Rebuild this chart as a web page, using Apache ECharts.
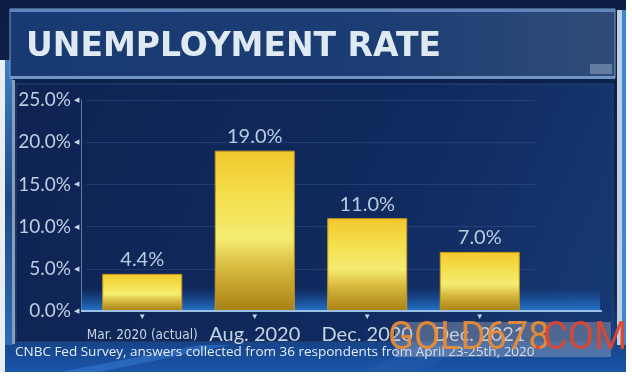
<!DOCTYPE html>
<html>
<head>
<meta charset="utf-8">
<script src="https://cdn.jsdelivr.net/npm/echarts@6/dist/echarts.min.js"></script>
<style>
  html, body { margin: 0; padding: 0; background: #fff; }
  #chart { width: 632px; height: 377px; }
</style>
</head>
<body>
<div id="chart"></div>
<script>
const categories = ["Mar. 2020 (actual)", "Aug. 2020", "Dec. 2020", "Dec. 2021"];
const rates = [4.4, 19.0, 11.0, 7.0];
const yTicks = [0, 5, 10, 15, 20, 25];
const titleText = "UNEMPLOYMENT RATE";
const sourceText = "CNBC Fed Survey, answers collected from 36 respondents from April 23-25th, 2020";

const chart = echarts.init(document.getElementById("chart"));

const goldFill = new echarts.graphic.LinearGradient(0, 0, 0, 1, [
  { offset: 0, color: "#f2c82c" },
  { offset: 0.3, color: "#f3e04e" },
  { offset: 0.55, color: "#f4ec72" },
  { offset: 0.72, color: "#d9bc40" },
  { offset: 1, color: "#a88015" }
]);

const option = {
  backgroundColor: "#ffffff",
  animation: false,
  graphic: [
    // frame background
    { type: "rect", shape: { x: 0, y: 0, width: 626, height: 372 }, z: -20,
      style: { fill: new echarts.graphic.LinearGradient(0, 0, 0, 1, [
        { offset: 0, color: "#0b1d45" }, { offset: 0.8, color: "#0f2a5e" }, { offset: 1, color: "#1b55a8" }]) } },
    { type: "rect", shape: { x: 0, y: 60, width: 5, height: 312 }, z: -19, style: { fill: "#e9eef4" } },
    { type: "rect", shape: { x: 5, y: 60, width: 8, height: 285 }, z: -19,
      style: { fill: new echarts.graphic.LinearGradient(0, 0, 0, 1, [
        { offset: 0, color: "#3c7fc8" }, { offset: 0.5, color: "#1d4a86" }, { offset: 1, color: "#2c6cb8" }]) } },
    { type: "rect", shape: { x: 12, y: 80, width: 3, height: 264 }, z: -18, style: { fill: "#8b9db3" } },
    { type: "rect", shape: { x: 617, y: 10, width: 5, height: 335 }, z: -18, style: { fill: "#c2cfdc" } },
    { type: "rect", shape: { x: 622, y: 10, width: 4, height: 335 }, z: -18, style: { fill: "#3d86d6" } },
    // title banner
    { type: "rect", shape: { x: 10, y: 9, width: 605, height: 69 }, z: -15,
      style: { fill: new echarts.graphic.LinearGradient(0, 0, 1, 0, [
        { offset: 0, color: "#183a72" }, { offset: 0.6, color: "#1c3d74" }, { offset: 1, color: "#2f4c78" }]),
        stroke: "#7d9cc4", lineWidth: 1 } },
    { type: "rect", shape: { x: 10, y: 9, width: 605, height: 3 }, z: -14, style: { fill: "#5f86bd" } },
    { type: "rect", shape: { x: 10, y: 76, width: 605, height: 3 }, z: -14, style: { fill: "#6f95c6" } },
    // chart panel
    { type: "rect", shape: { x: 16, y: 84, width: 597, height: 258 }, z: -15,
      style: { fill: new echarts.graphic.LinearGradient(0, 0, 1, 1, [
        { offset: 0, color: "#0e2352" }, { offset: 0.6, color: "#102a5f" }, { offset: 1, color: "#173a74" }]),
        stroke: "#27477c", lineWidth: 1 } },
    // blue glow above the baseline
    { type: "rect", shape: { x: 81, y: 288, width: 519, height: 23 }, z: -12,
      style: { fill: new echarts.graphic.LinearGradient(0, 0, 0, 1, [
        { offset: 0, color: "rgba(30,100,190,0)" }, { offset: 1, color: "rgba(40,130,220,0.85)" }]) } },
    // baseline
    { type: "line", shape: { x1: 81, y1: 311, x2: 602, y2: 311 }, z: 5,
      style: { stroke: "#9cc0e6", lineWidth: 2 } },
    // footer streaks
    { type: "polygon", shape: { points: [[60, 372], [200, 345], [230, 345], [100, 372]] }, z: -16,
      style: { fill: "rgba(60,130,220,0.45)" } },
    { type: "polygon", shape: { points: [[360, 372], [420, 345], [470, 345], [420, 372]] }, z: -16,
      style: { fill: "rgba(40,90,170,0.5)" } },
    // title
    { type: "text", left: 26, top: 31, z: 10,
      style: { text: titleText, font: "bold 33px 'DejaVu Sans'", fill: "#dfe9f2" } },
    { type: "rect", shape: { x: 590, y: 64, width: 22, height: 10 }, z: -13, style: { fill: "rgba(200,215,235,0.35)" } },
    // source
    { type: "text", left: 15, top: 345, z: 10,
      style: { text: sourceText, font: "13.5px 'Open Sans'", fill: "#e6edf5" } },
    // watermark
    { type: "rect", shape: { x: 395, y: 322, width: 216, height: 35 }, z: 20,
      style: { fill: "rgba(190,195,205,0.35)" } },
    { type: "text", left: 388, top: 320, z: 21,
      style: { text: "GOLD678", font: "38px Roboto", fill: "rgba(236,140,50,0.92)" } },
    { type: "text", left: 533, top: 320, z: 21,
      style: { text: ".COM", font: "38px Roboto", fill: "rgba(222,70,45,0.92)" } }
  ],
  grid: { left: 86, right: 96, top: 100, bottom: 66 },
  xAxis: {
    type: "category",
    data: categories,
    axisLine: { show: false },
    axisTick: { show: false },
    splitLine: { show: false },
    axisLabel: {
      interval: 0,
      margin: 1,
      formatter: function (v, i) {
        return "{t|▼}\n" + (i === 0 ? "{s|" + v + "}" : "{b|" + v + "}");
      },
      rich: {
        t: { color: "#c3d6ea", fontSize: 8, lineHeight: 10, align: "center" },
        s: { color: "#c5d4e4", fontSize: 13.5, fontFamily: "'DejaVu Sans Condensed', 'Liberation Sans'", lineHeight: 26 },
        b: { color: "#c5d4e4", fontSize: 20, fontFamily: "Lato", lineHeight: 26 }
      }
    }
  },
  yAxis: {
    type: "value",
    min: yTicks[0],
    max: yTicks[yTicks.length - 1],
    interval: yTicks[1] - yTicks[0],
    offset: 5,
    axisLine: { show: true, lineStyle: { color: "#5e7aa6", width: 1 } },
    axisTick: { show: false },
    splitLine: { show: true, lineStyle: { color: "rgba(70,100,150,0.35)" } },
    axisLabel: {
      margin: 2,
      formatter: function (v) { return "{v|" + v.toFixed(1) + "%}{t|◀}"; },
      rich: {
        v: { color: "#bccee0", fontSize: 19, fontFamily: "Lato" },
        t: { color: "#c9d8e8", fontSize: 7, padding: [0, 0, 0, 3] }
      }
    }
  },
  series: [
    {
      type: "bar",
      data: rates,
      barWidth: 80,
      itemStyle: { color: goldFill, borderColor: "#c8981c", borderWidth: 1 },
      label: {
        show: true,
        position: "top",
        distance: 4,
        formatter: function (p) { return p.value.toFixed(1) + "%"; },
        color: "#b9cce0",
        fontSize: 20,
        fontFamily: "Lato"
      }
    }
  ]
};

chart.setOption(option);
</script>
</body>
</html>
